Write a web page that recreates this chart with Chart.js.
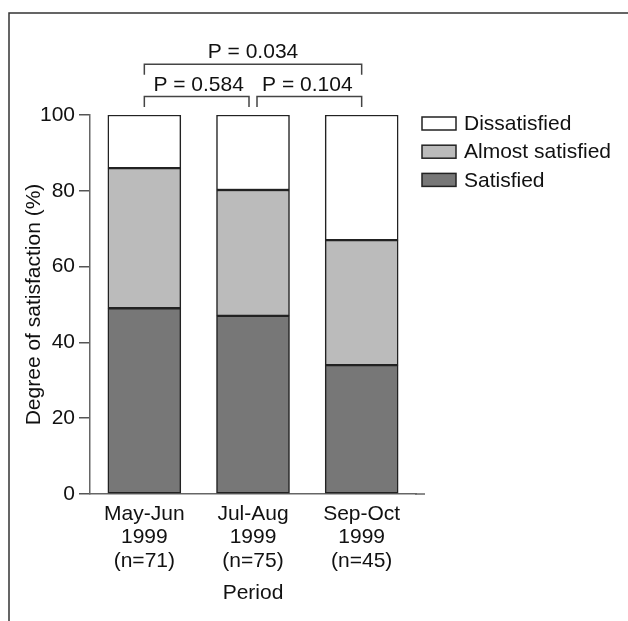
<!DOCTYPE html>
<html>
<head>
<meta charset="utf-8">
<script src="https://cdn.jsdelivr.net/npm/chart.js@4.4.1/dist/chart.umd.min.js"></script>
<style>
  html, body { margin: 0; padding: 0; background: #fff; }
  #wrap { width: 628px; height: 621px; }
</style>
</head>
<body>
<div id="wrap"><canvas id="satisfaction-chart" width="628" height="621"></canvas></div>
<script>
/* global Chart:false */

// data
var periods = [
    ['May-Jun', '1999', '(n=71)'],
    ['Jul-Aug', '1999', '(n=75)'],
    ['Sep-Oct', '1999', '(n=45)'],
];
var satisfied = [49, 47, 34];
var almostSatisfied = [37, 33.2, 33];
var dissatisfied = [14, 19.8, 33];
var yTicks = [0, 20, 40, 60, 80, 100];
// pairwise comparisons: [from bar, to bar, label, level]
var comparisons = [
    [0, 1, 'P = 0.584', 0],
    [1, 2, 'P = 0.104', 0],
    [0, 2, 'P = 0.034', 1],
];

var FONT = "'Liberation Sans', Arial, Helvetica, sans-serif";
var FS = 21;
var TEXT = '#111';

var extras = {
    id: 'extras',
    beforeDraw: function (chart) {
        var ctx = chart.ctx;
        ctx.save();
        ctx.fillStyle = '#fff';
        ctx.fillRect(0, 0, chart.width, chart.height);
        // figure frame (runs off the right and bottom edges)
        ctx.strokeStyle = '#333';
        ctx.lineWidth = 1.5;
        ctx.strokeRect(9, 13, 700, 700);
        ctx.restore();
    },
    afterDraw: function (chart) {
        var ctx = chart.ctx;
        var area = chart.chartArea;
        var xs = chart.scales.x;
        ctx.save();

        // x axis line runs a little past the last bar
        ctx.strokeStyle = '#666';
        ctx.lineWidth = 1.5;
        ctx.beginPath();
        ctx.moveTo(area.right - 1, area.bottom);
        ctx.lineTo(area.right + 9, area.bottom);
        ctx.stroke();

        // comparison brackets
        ctx.strokeStyle = '#444';
        ctx.fillStyle = TEXT;
        ctx.font = FS + 'px ' + FONT;
        ctx.textAlign = 'center';
        ctx.textBaseline = 'alphabetic';
        comparisons.forEach(function (c) {
            var x1 = xs.getPixelForValue(c[0]);
            var x2 = xs.getPixelForValue(c[1]);
            // leave a gap where two brackets on one level meet
            comparisons.forEach(function (o) {
                if (o === c || o[3] !== c[3]) return;
                if (o[1] === c[0]) x1 += 4;
                if (o[0] === c[1]) x2 -= 4;
            });
            var yTop = area.top - 18.5 - c[3] * 32.3;
            ctx.beginPath();
            ctx.moveTo(x1, yTop + 10.5);
            ctx.lineTo(x1, yTop);
            ctx.lineTo(x2, yTop);
            ctx.lineTo(x2, yTop + 10.5);
            ctx.stroke();
            ctx.fillText(c[2], (xs.getPixelForValue(c[0]) + xs.getPixelForValue(c[1])) / 2, yTop - 6);
        });

        // legend, top item first
        var items = chart.data.datasets.slice().reverse();
        ctx.textAlign = 'left';
        ctx.textBaseline = 'middle';
        items.forEach(function (ds, i) {
            var by = area.top + 2 + i * 28.2;
            ctx.fillStyle = ds.backgroundColor;
            ctx.fillRect(422, by, 34, 13);
            ctx.strokeStyle = '#222';
            ctx.lineWidth = 1.5;
            ctx.strokeRect(422, by, 34, 13);
            ctx.fillStyle = TEXT;
            ctx.fillText(ds.label, 464, by + 7.5);
        });
        ctx.restore();
    },
};

var barStyle = {
    borderColor: '#222',
    borderWidth: 1.5,
    borderSkipped: false,
    barThickness: 73,
};

new Chart(document.getElementById('satisfaction-chart'), {
    type: 'bar',
    data: {
        labels: periods,
        datasets: [
            Object.assign({ label: 'Satisfied', data: satisfied, backgroundColor: '#777777' }, barStyle),
            Object.assign({ label: 'Almost satisfied', data: almostSatisfied, backgroundColor: '#bbbbbb' }, barStyle),
            Object.assign({ label: 'Dissatisfied', data: dissatisfied, backgroundColor: '#ffffff' }, barStyle),
        ],
    },
    options: {
        responsive: false,
        animation: false,
        devicePixelRatio: 1,
        layout: {
            padding: { left: 10, top: 115, right: 212, bottom: 12 },
        },
        plugins: {
            legend: { display: false },
            tooltip: { enabled: false },
        },
        scales: {
            x: {
                stacked: true,
                grid: { display: false, drawTicks: false },
                border: { display: true, color: '#666', width: 1.5 },
                ticks: {
                    color: TEXT,
                    padding: 8,
                    font: { family: FONT, size: FS, lineHeight: 1.12 },
                    maxRotation: 0,
                    autoSkip: false,
                },
                title: {
                    display: true,
                    text: 'Period',
                    color: TEXT,
                    font: { family: FONT, size: FS },
                    padding: { top: 2, bottom: 3 },
                },
                afterFit: function (scale) { scale.height = 115; },
            },
            y: {
                stacked: true,
                min: 0,
                max: 100,
                afterBuildTicks: function (scale) {
                    scale.ticks = yTicks.map(function (v) { return { value: v }; });
                },
                grid: { display: true, drawOnChartArea: false, drawTicks: true, tickLength: 11, color: '#555', lineWidth: 1.5 },
                border: { display: true, color: '#666', width: 1.5 },
                ticks: {
                    color: TEXT,
                    padding: 4,
                    font: { family: FONT, size: FS },
                },
                title: {
                    display: true,
                    text: 'Degree of satisfaction (%)',
                    color: TEXT,
                    font: { family: FONT, size: FS },
                    padding: { top: 12, bottom: 0 },
                },
                afterFit: function (scale) { scale.width = 80; },
            },
        },
    },
    plugins: [extras],
});
</script>
</body>
</html>
